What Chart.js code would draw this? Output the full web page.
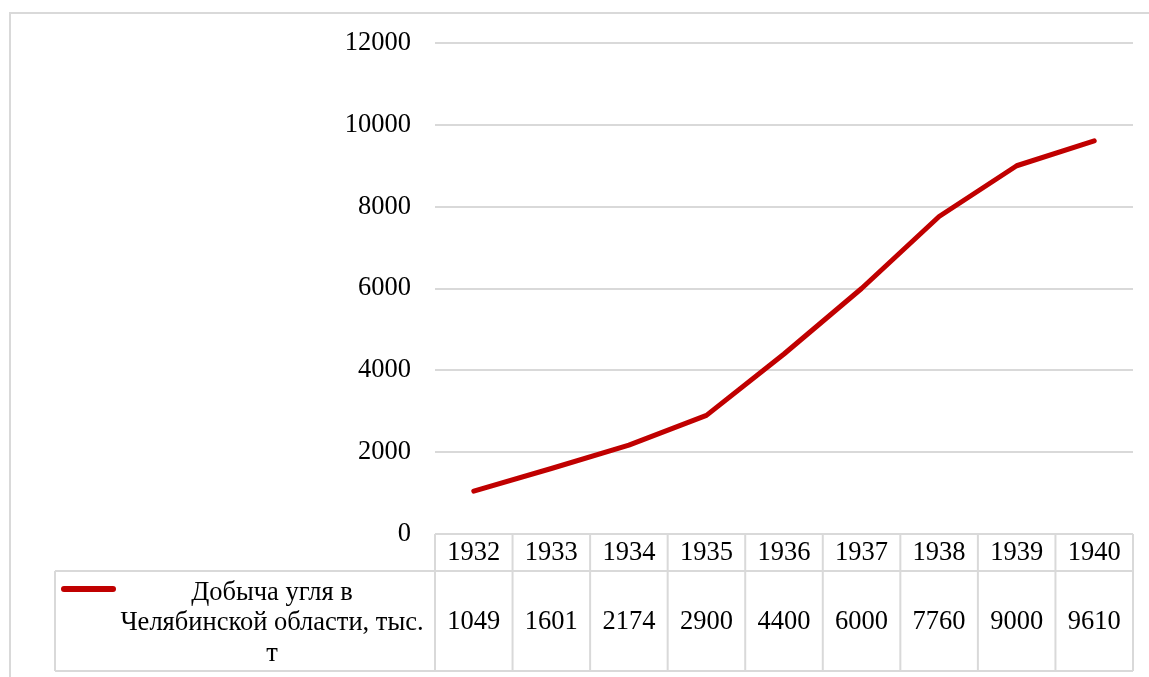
<!DOCTYPE html>
<html>
<head>
<meta charset="utf-8">
<script src="https://cdn.jsdelivr.net/npm/chart.js@4/dist/chart.umd.min.js"></script>
<style>
  body { margin: 0; background: #fff; }
  canvas { display: block; }
</style>
</head>
<body>
<canvas id="myChart" width="1149" height="677"></canvas>
<script>
// данные
var years = ['1932', '1933', '1934', '1935', '1936', '1937', '1938', '1939', '1940'];
var coal = [1049, 1601, 2174, 2900, 4400, 6000, 7760, 9000, 9610];
var seriesName = ['Добыча угля в', 'Челябинской области, тыс.', 'т'];
var yTicks = [0, 2000, 4000, 6000, 8000, 10000, 12000];

var lineColor = '#C00000';
var gridColor = '#d9d9d9';
var fontSize = 26.5;
var fontFamily = "'Liberation Serif', 'Times New Roman', serif";
var font = fontSize + 'px ' + fontFamily;

// таблица данных под графиком + рамка
var tablePlugin = {
    id: 'dataTable',
    beforeDraw: function (chart) {
        var ctx = chart.ctx;
        ctx.save();
        ctx.strokeStyle = gridColor;
        ctx.lineWidth = 2;
        ctx.beginPath();
        ctx.moveTo(10, 677);
        ctx.lineTo(10, 13);
        ctx.lineTo(1149, 13);
        ctx.stroke();
        ctx.restore();
    },
    afterDraw: function (chart) {
        var ctx = chart.ctx;
        var x = chart.scales.x;
        var area = chart.chartArea;
        var top = area.bottom;
        var mid = top + 37;
        var bottom = mid + 100;
        var labelLeft = 55;
        var colW = (area.right - area.left) / years.length;

        ctx.save();
        ctx.strokeStyle = gridColor;
        ctx.lineWidth = 2;
        ctx.beginPath();
        // горизонтальные линии
        ctx.moveTo(area.left, top); ctx.lineTo(area.right, top);
        ctx.moveTo(labelLeft, mid); ctx.lineTo(area.right, mid);
        ctx.moveTo(labelLeft, bottom); ctx.lineTo(area.right, bottom);
        // вертикальные
        ctx.moveTo(labelLeft, mid); ctx.lineTo(labelLeft, bottom);
        for (var i = 0; i <= years.length; i++) {
            var cx = area.left + i * colW;
            ctx.moveTo(cx, top); ctx.lineTo(cx, bottom);
        }
        ctx.stroke();

        ctx.fillStyle = '#000';
        ctx.font = font;
        ctx.textAlign = 'center';
        ctx.textBaseline = 'middle';
        years.forEach(function (y, i) {
            var px = x.getPixelForValue(i);
            ctx.fillText(y, px, (top + mid) / 2 + 1);
            ctx.fillText(String(coal[i]), px, (mid + bottom) / 2 + 1);
        });

        // легенда
        ctx.strokeStyle = lineColor;
        ctx.lineWidth = 6;
        ctx.lineCap = 'round';
        ctx.beginPath();
        ctx.moveTo(64, 589); ctx.lineTo(113, 589);
        ctx.stroke();

        seriesName.forEach(function (t, i) {
            ctx.fillText(t, 272, 593 + i * 30.5);
        });
        ctx.restore();
    }
};

var totalChart = new Chart('myChart', {
    type: 'line',
    data: {
        labels: years,
        datasets: [{
            label: seriesName.join(' '),
            data: coal,
            borderColor: lineColor,
            borderWidth: 5,
            borderCapStyle: 'round',
            borderJoinStyle: 'round',
            pointRadius: 0,
            tension: 0,
            fill: false
        }]
    },
    options: {
        responsive: false,
        animation: false,
        layout: { padding: { left: 0, top: 43, right: 16, bottom: 143 } },
        plugins: {
            legend: { display: false },
            tooltip: { enabled: false }
        },
        scales: {
            x: {
                display: false,
                offset: true
            },
            y: {
                min: 0,
                max: 12000,
                afterFit: function (scale) { scale.width = 435; },
                afterBuildTicks: function (scale) {
                    scale.ticks = yTicks.map(function (v) { return { value: v }; });
                },
                border: { display: false },
                grid: { color: gridColor, lineWidth: 2, drawTicks: false },
                ticks: {
                    padding: 24,
                    color: '#000',
                    font: { family: fontFamily, size: fontSize },
                    callback: function (v) { return String(v); }
                }
            }
        }
    },
    plugins: [tablePlugin]
});
</script>
</body>
</html>
